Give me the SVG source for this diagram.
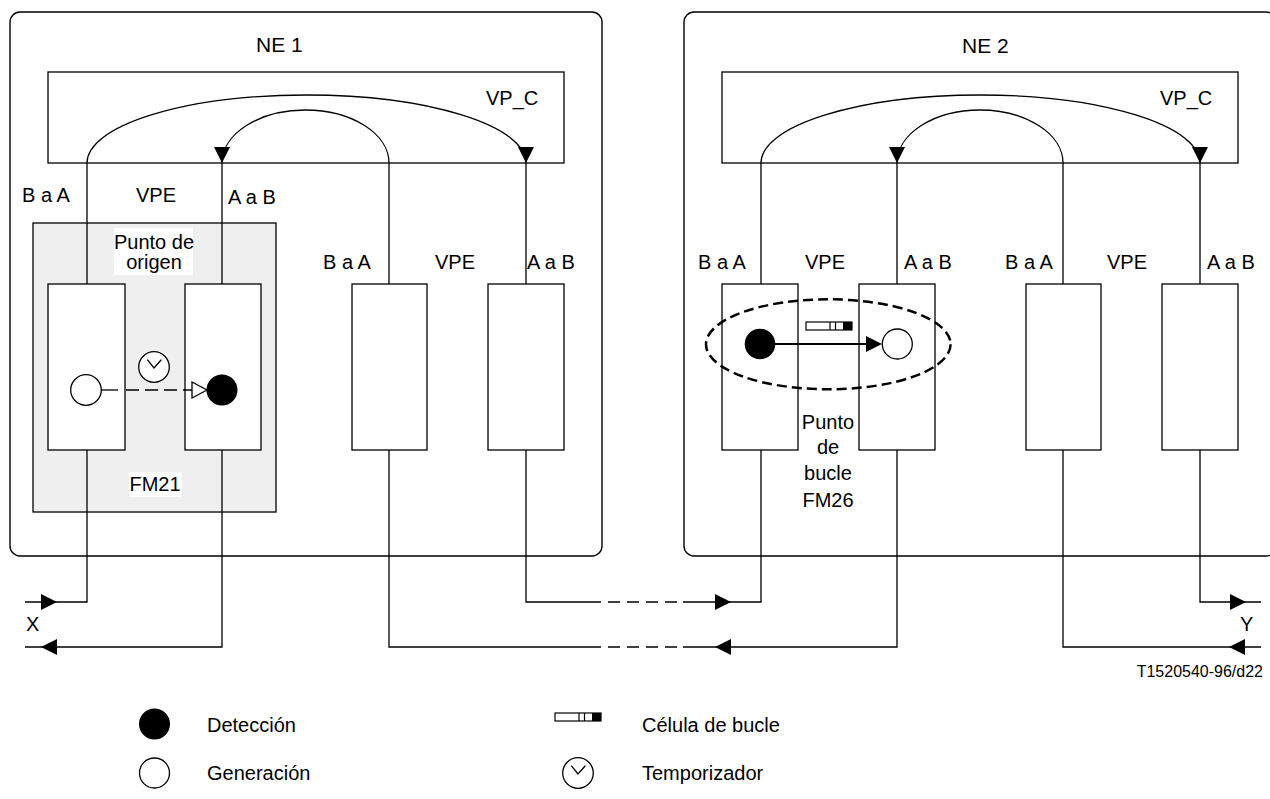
<svg xmlns="http://www.w3.org/2000/svg" xmlns:xlink="http://www.w3.org/1999/xlink" width="1270" height="799" viewBox="0 0 1270 799">
<style>
.ln{fill:none;stroke:#000;stroke-width:1.3}
.box{fill:#fff;stroke:#000;stroke-width:1.3}
.ne{fill:none;stroke:#000;stroke-width:1.4}
.dash{fill:none;stroke:#000;stroke-width:1.6;stroke-dasharray:12 7}
text{font-family:"Liberation Sans",Arial,sans-serif;font-size:20px;fill:#000}
.big{font-size:21px}
.small{font-size:16px}
.mid{text-anchor:middle}
</style>
<defs>
<path id="tri" d="M-16,-8 L0,0 L-16,8 z" fill="#000"/>
<g id="timer"><circle r="15.3" fill="#fff" stroke="#000" stroke-width="1.3"/><polyline points="-6.7,-7.3 0,1 7.3,-7.3" fill="none" stroke="#000" stroke-width="1.3"/></g>
<g id="cell"><rect x="0" y="0" width="46" height="8" fill="#fff" stroke="#000" stroke-width="1.2"/><line x1="24" y1="0" x2="24" y2="8" stroke="#000" stroke-width="1.2"/><line x1="29.5" y1="0" x2="29.5" y2="8" stroke="#000" stroke-width="1.2"/><rect x="37" y="0" width="9" height="8" fill="#000"/></g>
</defs>
<rect width="1270" height="799" fill="#fff"/>

<g id="ne1">
<rect class="ne" x="10" y="12" width="592" height="544" rx="10"/>
<text class="big" x="256" y="52">NE 1</text>
</g>
<g id="ne2">
<rect class="ne" x="684" y="12" width="592" height="544" rx="10"/>
<text class="big" x="962" y="53">NE 2</text>
</g>

<g id="ne1-vpc">
<rect class="ln" x="48" y="72" width="516" height="91"/>
<text x="486" y="105">VP_C</text>
</g>
<g id="ne2-vpc">
<rect class="ln" x="722" y="72" width="516" height="91"/>
<text x="1160" y="105">VP_C</text>
</g>

<g id="fm21">
<rect x="33" y="223" width="243" height="289" fill="#efefef" stroke="#000" stroke-width="1.3"/>
<rect x="114" y="228" width="79" height="47" fill="#fff"/>
<text class="mid" x="154" y="249">Punto de</text>
<text class="mid" x="154" y="269">origen</text>
<rect x="129" y="472" width="53" height="25" fill="#fff"/>
<text class="mid" x="155" y="491">FM21</text>
</g>

<g id="labels">
<text x="22" y="202">B a A</text>
<text x="136" y="202">VPE</text>
<text x="228" y="204">A a B</text>
<text x="323" y="269">B a A</text>
<text x="435" y="269">VPE</text>
<text x="527" y="269">A a B</text>
<text x="698" y="269">B a A</text>
<text x="805" y="269">VPE</text>
<text x="904" y="269">A a B</text>
<text x="1005" y="269">B a A</text>
<text x="1107" y="269">VPE</text>
<text x="1207" y="269">A a B</text>
<text x="26" y="631">X</text>
<text x="1240" y="631">Y</text>
<text class="small" x="1263" y="677" text-anchor="end">T1520540-96/d22</text>
</g>

<g id="connectors">
<path class="ln" d="M87,163 A219.5,68 0 0 1 526,163"/>
<path class="ln" d="M389,163 A83.5,53 0 0 0 222,163"/>
<path class="ln" d="M761,163 A219.5,68 0 0 1 1200,163"/>
<path class="ln" d="M1063,163 A83,53 0 0 0 897,163"/>
<path class="ln" d="M87,163 V284 M222,163 V284 M389,163 V284 M526,163 V284"/>
<path class="ln" d="M761,163 V284 M897,163 V284 M1063,163 V284 M1200,163 V284"/>
<path class="ln" d="M87,450 V602 H25 M222,450 V647 H25 M389,450 V647 H601 M526,450 V602 H601"/>
<path class="ln" d="M683,602 H761 V450 M683,647 H897 V450 M1063,450 V647 H1261 M1200,450 V602 H1261"/>
<path class="dash" d="M608,602 H677 M608,647 H677"/>
<use xlink:href="#tri" transform="translate(222,163) rotate(90)"/>
<use xlink:href="#tri" transform="translate(526,163) rotate(90)"/>
<use xlink:href="#tri" transform="translate(897,163) rotate(90)"/>
<use xlink:href="#tri" transform="translate(1200,163) rotate(90)"/>
<use xlink:href="#tri" transform="translate(57,602)"/>
<use xlink:href="#tri" transform="translate(41,647) rotate(180)"/>
<use xlink:href="#tri" transform="translate(731,602)"/>
<use xlink:href="#tri" transform="translate(715,647) rotate(180)"/>
<use xlink:href="#tri" transform="translate(1246,602)"/>
<use xlink:href="#tri" transform="translate(1229,647) rotate(180)"/>
</g>

<g id="ne1-vpe-a">
<rect class="box" x="48" y="284" width="77" height="166"/>
<rect class="box" x="185" y="284" width="76" height="166"/>
</g>
<g id="ne1-vpe-b">
<rect class="box" x="352" y="284" width="75" height="166"/>
<rect class="box" x="488" y="284" width="76" height="166"/>
</g>
<g id="ne2-vpe-a">
<rect class="box" x="722" y="284" width="76" height="166"/>
<rect class="box" x="859" y="284" width="76" height="166"/>
</g>
<g id="ne2-vpe-b">
<rect class="box" x="1026" y="284" width="75" height="166"/>
<rect class="box" x="1162" y="284" width="76" height="166"/>
</g>

<g id="fm21-flow">
<line x1="101" y1="390" x2="118" y2="390" stroke="#000" stroke-width="1.3"/>
<line x1="126" y1="390" x2="192" y2="390" stroke="#000" stroke-width="1.3" stroke-dasharray="13 6"/>
<polygon points="192,382 207,390 192,398" fill="#fff" stroke="#000" stroke-width="1.3"/>
<circle cx="86" cy="390" r="15.3" fill="#fff" stroke="#000" stroke-width="1.3"/>
<circle cx="222" cy="390" r="15.5" fill="#000"/>
<use xlink:href="#timer" transform="translate(154,367)"/>
</g>

<g id="fm26">
<ellipse cx="828.3" cy="344.3" rx="122.3" ry="45" fill="none" stroke="#000" stroke-width="2.5" stroke-dasharray="10 5"/>
<line x1="760" y1="344" x2="868" y2="344" stroke="#000" stroke-width="2"/>
<use xlink:href="#tri" transform="translate(882,344)"/>
<circle cx="760" cy="344" r="15.3" fill="#000"/>
<circle cx="897.3" cy="344" r="15" fill="#fff" stroke="#000" stroke-width="1.3"/>
<use xlink:href="#cell" transform="translate(806,322)"/>
<text class="mid" x="828" y="429">Punto</text>
<text class="mid" x="828" y="454">de</text>
<text class="mid" x="828" y="480">bucle</text>
<text class="mid" x="828" y="507">FM26</text>
</g>

<g id="legend">
<circle cx="154.5" cy="724" r="15.5" fill="#000"/>
<text x="207" y="732">Detección</text>
<circle cx="154.5" cy="773" r="15" fill="#fff" stroke="#000" stroke-width="1.3"/>
<text x="207" y="780">Generación</text>
<use xlink:href="#cell" transform="translate(555,713)"/>
<text x="642" y="732">Célula de bucle</text>
<use xlink:href="#timer" transform="translate(578,773)"/>
<text x="642" y="780">Temporizador</text>
</g>
</svg>
